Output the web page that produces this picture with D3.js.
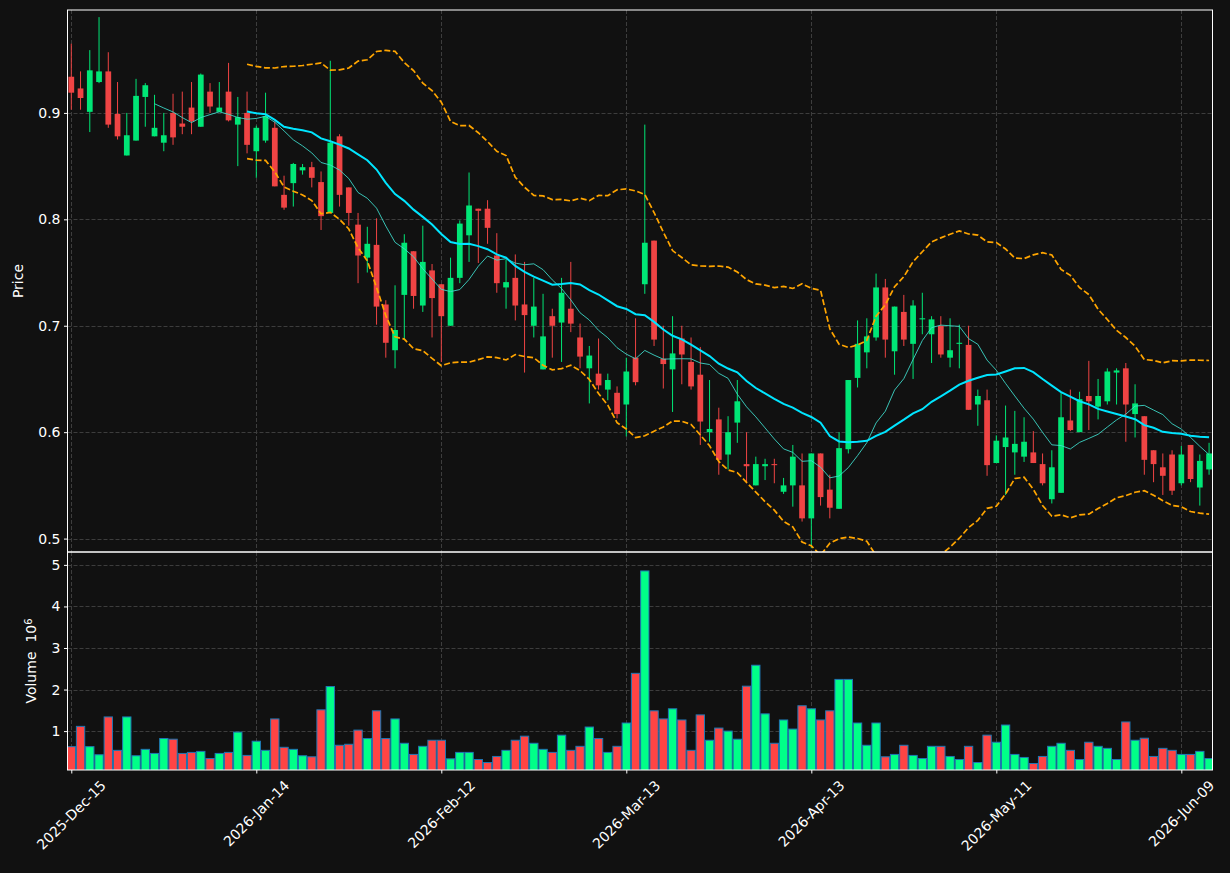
<!DOCTYPE html>
<html>
<head>
<meta charset="utf-8">
<script src="https://cdn.jsdelivr.net/npm/d3@7"></script>
<style>
  body { margin: 0; background: #111111; }
  svg { display: block; font-family: "DejaVu Sans", sans-serif; }
</style>
</head>
<body>
<div id="chart"></div>
<script>
// daily OHLC, one value per trading day (2025-12-15 .. 2026-06-12)
const opens = [
  0.934, 0.923, 0.901, 0.929, 0.939, 0.899, 0.860, 0.874, 0.915, 0.878,
  0.872, 0.900, 0.890, 0.905, 0.887, 0.920, 0.901, 0.920, 0.889, 0.900,
  0.864, 0.874, 0.886, 0.823, 0.834, 0.846, 0.849, 0.835, 0.806, 0.878,
  0.830, 0.795, 0.764, 0.776, 0.720, 0.677, 0.729, 0.770, 0.719, 0.752,
  0.739, 0.700, 0.745, 0.785, 0.810, 0.810, 0.766, 0.736, 0.745, 0.720,
  0.700, 0.659, 0.709, 0.703, 0.716, 0.689, 0.660, 0.655, 0.640, 0.637,
  0.626, 0.670, 0.739, 0.780, 0.669, 0.659, 0.688, 0.666, 0.654, 0.600,
  0.612, 0.579, 0.609, 0.570, 0.550, 0.568, 0.570, 0.544, 0.550, 0.550,
  0.519, 0.580, 0.546, 0.528, 0.584, 0.651, 0.675, 0.689, 0.736, 0.676,
  0.713, 0.683, 0.706, 0.692, 0.700, 0.670, 0.683, 0.682, 0.626, 0.630,
  0.571, 0.586, 0.581, 0.577, 0.581, 0.570, 0.537, 0.543, 0.611, 0.600,
  0.634, 0.624, 0.629, 0.656, 0.660, 0.617, 0.615, 0.583, 0.567, 0.579,
  0.552, 0.588, 0.548, 0.565
];
const highs = [
  0.965, 0.939, 0.959, 0.990, 0.957, 0.929, 0.900, 0.932, 0.928, 0.917,
  0.900, 0.918, 0.920, 0.929, 0.937, 0.928, 0.929, 0.947, 0.915, 0.920,
  0.888, 0.919, 0.892, 0.841, 0.853, 0.852, 0.854, 0.845, 0.949, 0.880,
  0.830, 0.806, 0.793, 0.801, 0.724, 0.738, 0.786, 0.770, 0.794, 0.758,
  0.739, 0.764, 0.799, 0.844, 0.810, 0.818, 0.787, 0.762, 0.767, 0.760,
  0.745, 0.730, 0.716, 0.745, 0.760, 0.702, 0.681, 0.688, 0.655, 0.643,
  0.670, 0.707, 0.889, 0.780, 0.700, 0.709, 0.700, 0.689, 0.680, 0.649,
  0.623, 0.615, 0.649, 0.600, 0.577, 0.575, 0.575, 0.557, 0.588, 0.580,
  0.580, 0.580, 0.560, 0.600, 0.649, 0.705, 0.707, 0.749, 0.744, 0.718,
  0.729, 0.724, 0.731, 0.709, 0.709, 0.707, 0.701, 0.700, 0.640, 0.640,
  0.597, 0.625, 0.620, 0.614, 0.601, 0.580, 0.583, 0.637, 0.640, 0.638,
  0.667, 0.650, 0.660, 0.660, 0.665, 0.645, 0.615, 0.583, 0.580, 0.583,
  0.587, 0.588, 0.579, 0.590
];
const lows = [
  0.903, 0.903, 0.882, 0.928, 0.886, 0.875, 0.860, 0.874, 0.887, 0.878,
  0.864, 0.870, 0.880, 0.880, 0.887, 0.900, 0.901, 0.892, 0.850, 0.862,
  0.839, 0.872, 0.831, 0.809, 0.812, 0.842, 0.830, 0.790, 0.806, 0.812,
  0.794, 0.740, 0.750, 0.701, 0.670, 0.660, 0.687, 0.716, 0.713, 0.689,
  0.666, 0.700, 0.740, 0.760, 0.759, 0.777, 0.731, 0.716, 0.705, 0.656,
  0.689, 0.659, 0.670, 0.666, 0.694, 0.660, 0.627, 0.640, 0.630, 0.613,
  0.596, 0.644, 0.730, 0.681, 0.641, 0.619, 0.645, 0.640, 0.588, 0.591,
  0.560, 0.565, 0.590, 0.552, 0.550, 0.555, 0.552, 0.542, 0.530, 0.516,
  0.491, 0.531, 0.519, 0.528, 0.580, 0.642, 0.660, 0.686, 0.670, 0.654,
  0.681, 0.650, 0.692, 0.665, 0.670, 0.661, 0.660, 0.621, 0.606, 0.559,
  0.571, 0.541, 0.560, 0.572, 0.571, 0.550, 0.533, 0.543, 0.601, 0.600,
  0.602, 0.612, 0.626, 0.626, 0.591, 0.595, 0.560, 0.553, 0.541, 0.541,
  0.550, 0.553, 0.531, 0.560
];
const closes = [
  0.919, 0.914, 0.940, 0.939, 0.889, 0.878, 0.879, 0.916, 0.926, 0.886,
  0.879, 0.877, 0.887, 0.892, 0.936, 0.906, 0.905, 0.893, 0.896, 0.870,
  0.886, 0.897, 0.831, 0.811, 0.852, 0.849, 0.839, 0.803, 0.872, 0.823,
  0.806, 0.766, 0.777, 0.718, 0.684, 0.696, 0.778, 0.728, 0.760, 0.726,
  0.709, 0.745, 0.796, 0.813, 0.808, 0.792, 0.740, 0.741, 0.719, 0.710,
  0.718, 0.690, 0.700, 0.731, 0.702, 0.671, 0.672, 0.644, 0.649, 0.617,
  0.657, 0.647, 0.778, 0.687, 0.664, 0.674, 0.673, 0.643, 0.610, 0.603,
  0.574, 0.600, 0.629, 0.568, 0.570, 0.570, 0.569, 0.550, 0.577, 0.519,
  0.580, 0.539, 0.529, 0.585, 0.649, 0.683, 0.690, 0.736, 0.687, 0.718,
  0.687, 0.719, 0.707, 0.706, 0.673, 0.677, 0.684, 0.621, 0.634, 0.569,
  0.592, 0.595, 0.589, 0.591, 0.571, 0.552, 0.567, 0.614, 0.602, 0.631,
  0.629, 0.634, 0.657, 0.658, 0.626, 0.627, 0.574, 0.570, 0.559, 0.545,
  0.579, 0.556, 0.573, 0.580
];
// volume, in millions
const volumes = [
  0.626, 1.114, 0.626, 0.431, 1.341, 0.537, 1.341, 0.407, 0.561, 0.463,
  0.821, 0.805, 0.463, 0.488, 0.512, 0.341, 0.463, 0.488, 0.976, 0.415,
  0.756, 0.537, 1.293, 0.610, 0.561, 0.407, 0.382, 1.512, 2.073, 0.659,
  0.683, 1.024, 0.821, 1.488, 0.821, 1.293, 0.707, 0.439, 0.634, 0.780,
  0.780, 0.333, 0.488, 0.488, 0.317, 0.244, 0.390, 0.537, 0.780, 0.878,
  0.707, 0.561, 0.488, 0.902, 0.537, 0.634, 1.098, 0.821, 0.488, 0.634,
  1.195, 2.390, 4.854, 1.488, 1.293, 1.537, 1.268, 0.537, 1.390, 0.780,
  1.073, 1.000, 0.805, 2.081, 2.585, 1.415, 0.707, 1.268, 1.049, 1.610,
  1.537, 1.268, 1.488, 2.244, 2.244, 1.195, 0.659, 1.195, 0.382, 0.439,
  0.659, 0.415, 0.341, 0.634, 0.634, 0.390, 0.317, 0.634, 0.244, 0.902,
  0.732, 1.146, 0.439, 0.366, 0.220, 0.390, 0.634, 0.707, 0.537, 0.317,
  0.732, 0.634, 0.585, 0.317, 1.220, 0.780, 0.829, 0.390, 0.585, 0.537,
  0.439, 0.439, 0.512, 0.341
];

// x axis: bar index of each tick and its date label
const tickIndex = [0, 20, 40, 60, 80, 100, 120];
const tickLabels = ["2025-Dec-15", "2026-Jan-14", "2026-Feb-12", "2026-Mar-13",
                    "2026-Apr-13", "2026-May-11", "2026-Jun-09"];
const priceTicks = [0.5, 0.6, 0.7, 0.8, 0.9];
const volumeTicks = [1, 2, 3, 4, 5];

// colours
const upColor = "#00e676";
const downColor = "#ef4444";
const volUpColor = "#00ff88";
const volDownColor = "#ff4444";
const gridColor = "#3d3d3d";

// rolling mean / std of the closes (SMA 10, SMA 20, Bollinger 20 x 2)
function rolling(values, n, fn) {
  return values.map((v, i) => i < n - 1 ? null : fn(values.slice(i - n + 1, i + 1)));
}
const sma10 = rolling(closes, 10, w => d3.mean(w));
const sma20 = rolling(closes, 20, w => d3.mean(w));
const std20 = rolling(closes, 20, w => d3.deviation(w));
const bbUpper = sma20.map((m, i) => m === null ? null : m + 2 * std20[i]);
const bbLower = sma20.map((m, i) => m === null ? null : m - 2 * std20[i]);

const width = 1230, height = 873;
const left = 67.5, right = 1212.5;
const priceTop = 10, priceBottom = 552;
const volTop = 552, volBottom = 770;

const svg = d3.select("#chart").append("svg")
  .attr("width", width)
  .attr("height", height)
  .style("background", "#111111");

const x = d3.scaleLinear().domain([-0.41, 123.37]).range([left, right]);
const yPrice = d3.scaleLinear().domain([0.4874, 0.9967]).range([priceBottom, priceTop]);
const yVol = d3.scaleLinear().domain([0.064, 5.31]).range([volBottom, volTop]);
const step = x(1) - x(0);

const defs = svg.append("defs");
defs.append("clipPath").attr("id", "clip-price").append("rect")
  .attr("x", left).attr("y", priceTop)
  .attr("width", right - left).attr("height", priceBottom - priceTop);
defs.append("clipPath").attr("id", "clip-vol").append("rect")
  .attr("x", left).attr("y", volTop)
  .attr("width", right - left).attr("height", volBottom - volTop);

// ---------- grid ----------
function drawGrid(y, ticks, top, bottom) {
  const g = svg.append("g")
    .attr("stroke", gridColor)
    .attr("stroke-width", 1)
    .attr("stroke-dasharray", "4,2");
  g.selectAll("line.h").data(ticks).join("line")
    .attr("x1", left).attr("x2", right)
    .attr("y1", d => Math.round(y(d)) + 0.5).attr("y2", d => Math.round(y(d)) + 0.5);
  g.selectAll("line.v").data(tickIndex).join("line")
    .attr("x1", d => Math.round(x(d)) + 0.5).attr("x2", d => Math.round(x(d)) + 0.5)
    .attr("y1", top).attr("y2", bottom);
}
drawGrid(yPrice, priceTicks, priceTop, priceBottom);
drawGrid(yVol, volumeTicks, volTop, volBottom);

// ---------- price panel ----------
const bars = closes.map((c, i) => ({ i, o: opens[i], h: highs[i], l: lows[i], c, v: volumes[i] }));

const pricePlot = svg.append("g").attr("clip-path", "url(#clip-price)");

const candles = pricePlot.append("g").selectAll("g").data(bars).join("g");
candles.append("line")
  .attr("x1", d => x(d.i)).attr("x2", d => x(d.i))
  .attr("y1", d => yPrice(d.h)).attr("y2", d => yPrice(d.l))
  .attr("stroke", d => d.c >= d.o ? upColor : downColor)
  .attr("stroke-width", 1);
const bodyW = step * 0.62;
candles.append("rect")
  .attr("x", d => x(d.i) - bodyW / 2)
  .attr("width", bodyW)
  .attr("y", d => yPrice(Math.max(d.o, d.c)))
  .attr("height", d => Math.max(1, Math.abs(yPrice(d.o) - yPrice(d.c))))
  .attr("fill", d => d.c >= d.o ? upColor : downColor);

function drawLine(values, color, w, dash, opacity) {
  const line = d3.line()
    .defined(d => d !== null)
    .x((d, i) => x(i))
    .y(d => yPrice(d));
  pricePlot.append("path")
    .datum(values)
    .attr("d", line)
    .attr("fill", "none")
    .attr("stroke", color)
    .attr("stroke-width", w)
    .attr("stroke-dasharray", dash)
    .attr("opacity", opacity);
}
drawLine(bbUpper, "#ffa500", 1.7, "6,2.6", 1);
drawLine(bbLower, "#ffa500", 1.7, "6,2.6", 1);
drawLine(sma10, "#40e0d0", 1, null, 0.85);
drawLine(sma20, "#00e5ff", 2, null, 1);

// ---------- volume panel ----------
const volPlot = svg.append("g").attr("clip-path", "url(#clip-vol)");
const volW = step * 0.9;
volPlot.selectAll("rect").data(bars).join("rect")
  .attr("x", d => x(d.i) - volW / 2)
  .attr("width", volW)
  .attr("y", d => yVol(d.v))
  .attr("height", d => yVol(0) - yVol(d.v))
  .attr("fill", d => d.c >= d.o ? volUpColor : volDownColor)
  .attr("stroke", "#1f77b4")
  .attr("stroke-width", 1);

// ---------- axes ----------
const axisStyle = g => {
  g.select(".domain").remove();
  g.selectAll(".tick line").attr("stroke", "#ffffff");
  g.selectAll(".tick text").attr("fill", "#ffffff").style("font-size", "14px")
    .style("font-family", "'DejaVu Sans', sans-serif");
};

svg.append("g")
  .attr("transform", `translate(${left},0)`)
  .call(d3.axisLeft(yPrice).tickValues(priceTicks).tickFormat(d3.format(".1f"))
    .tickSize(3.5).tickPadding(3.5))
  .call(axisStyle);

svg.append("g")
  .attr("transform", `translate(${left},0)`)
  .call(d3.axisLeft(yVol).tickValues(volumeTicks).tickFormat(d3.format("d"))
    .tickSize(3.5).tickPadding(3.5))
  .call(axisStyle);

// x ticks only under the volume panel
svg.append("g")
  .attr("transform", `translate(0,${volBottom})`)
  .call(d3.axisBottom(x).tickValues(tickIndex).tickFormat("").tickSize(3.5))
  .call(axisStyle);

// rotated 45 deg date labels, centred under each tick like matplotlib
const labels = svg.append("g").selectAll("text").data(tickIndex).join("text")
  .attr("fill", "#ffffff")
  .style("font-size", "14px")
  .attr("text-anchor", "end")
  .attr("dominant-baseline", "central")
  .text((d, k) => tickLabels[k]);
labels.attr("transform", function (d) {
  const L = this.getComputedTextLength();
  const h = 14;
  return `translate(${x(d) + 0.354 * L},${volBottom + 8 + 0.354 * h}) rotate(-45)`;
});

// panel frames
[[priceTop, priceBottom], [volTop, volBottom]].forEach(([t, b]) => {
  svg.append("rect")
    .attr("x", left).attr("y", t)
    .attr("width", right - left).attr("height", b - t)
    .attr("fill", "none")
    .attr("stroke", "#ffffff")
    .attr("stroke-width", 1);
});

// axis titles
svg.append("text")
  .attr("transform", `translate(23,${(priceTop + priceBottom) / 2}) rotate(-90)`)
  .attr("text-anchor", "middle")
  .attr("fill", "#ffffff")
  .style("font-size", "14px")
  .text("Price");

const volLabel = svg.append("text")
  .attr("transform", `translate(36,${(volTop + volBottom) / 2}) rotate(-90)`)
  .attr("text-anchor", "middle")
  .attr("fill", "#ffffff")
  .style("font-size", "14px");
volLabel.append("tspan").text("Volume\u00a0\u00a010");
volLabel.append("tspan").attr("dy", "-0.45em").style("font-size", "10px").text("6");
</script>
</body>
</html>
